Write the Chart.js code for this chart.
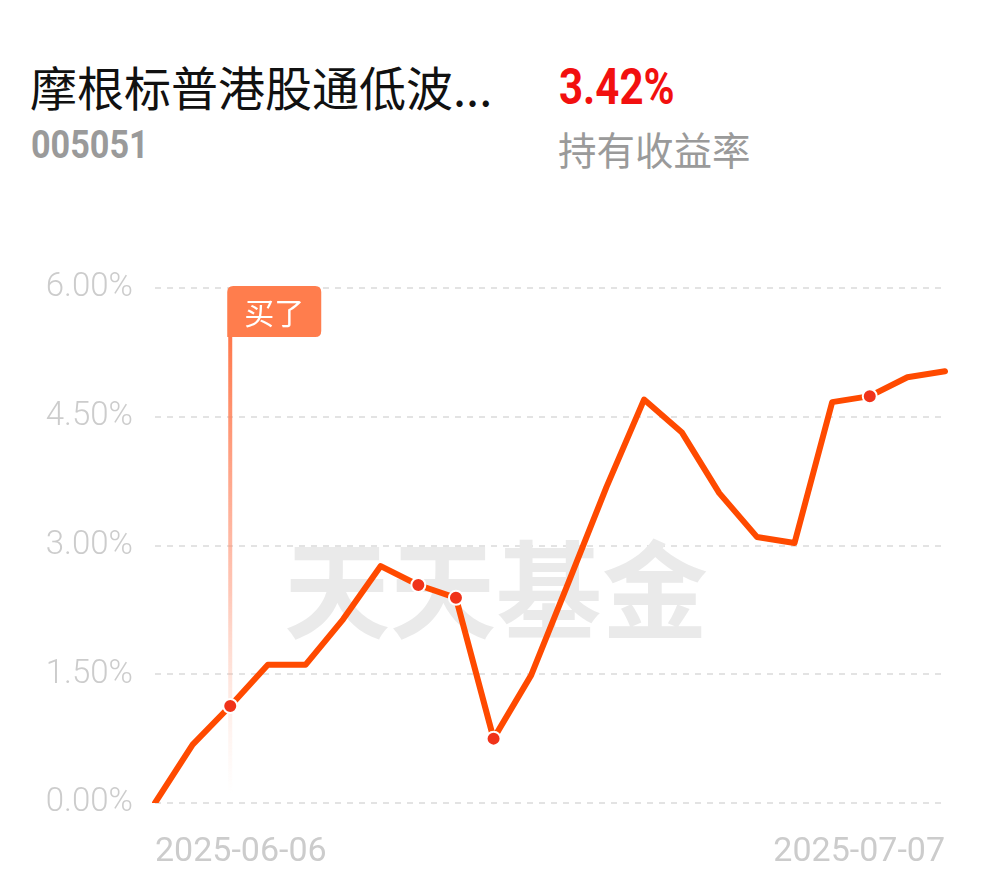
<!DOCTYPE html>
<html>
<head>
<meta charset="utf-8">
<script src="https://cdn.jsdelivr.net/npm/chart.js@4.4.1/dist/chart.umd.min.js"></script>
<style>
  body { margin: 0; background: #fff; width: 990px; height: 878px; overflow: hidden; position: relative; font-family: Roboto, "Noto Sans CJK SC", sans-serif; }
  .t { position: absolute; white-space: nowrap; transform-origin: left top; }
  #title { left: 30px; top: 51px; font: 47px "Noto Sans CJK SC", sans-serif; color: #111; }
  #rate { left: 559px; top: 58px; font: bold 50px Roboto, sans-serif; color: #f2100f; transform: scaleX(0.84); }
  #code { left: 31px; top: 123px; font: bold 38px Roboto, sans-serif; color: #9a9a9a; transform: scaleX(0.9); }
  #rateLabel { left: 558px; top: 120px; font: 38.5px "Noto Sans CJK SC", sans-serif; color: #9a9a9a; }
  #wrap { position: absolute; left: 0; top: 240px; width: 990px; height: 638px; }
</style>
</head>
<body>
<div class="t" id="title">摩根标普港股通低波...</div>
<div class="t" id="rate">3.42%</div>
<div class="t" id="code">005051</div>
<div class="t" id="rateLabel">持有收益率</div>
<div id="wrap"><canvas id="myChart"></canvas></div>
<script>
// trading days shown on the chart
dates = ['2025-06-06','2025-06-09','2025-06-10','2025-06-11','2025-06-12','2025-06-13',
         '2025-06-16','2025-06-17','2025-06-18','2025-06-19','2025-06-20',
         '2025-06-23','2025-06-24','2025-06-25','2025-06-26','2025-06-27',
         '2025-06-30','2025-07-01','2025-07-02','2025-07-03','2025-07-04','2025-07-07']
// holding return in %
returns = [0, 0.68, 1.13, 1.61, 1.61, 2.14, 2.76, 2.54, 2.39, 0.75, 1.49,
           2.58, 3.68, 4.70, 4.32, 3.61, 3.10, 3.03, 4.67, 4.74, 4.96, 5.03]
yTicks = [0, 1.5, 3, 4.5, 6]
// days with a trade dot, and the day the fund was bought
tradeDates = ['2025-06-10','2025-06-17','2025-06-18','2025-06-19','2025-07-03']
buyDate = '2025-06-10'
buyLabel = '买了'
watermark = '天天基金'

var watermarkPlugin = {
  id: 'watermark',
  beforeDatasetsDraw: function(chart) {
    var ctx = chart.ctx
    var a = chart.chartArea
    ctx.save()
    ctx.font = 'bold 106px "Noto Sans CJK SC"'
    ctx.fillStyle = '#eaeaea'
    ctx.textAlign = 'center'
    ctx.textBaseline = 'middle'
    ctx.fillText(watermark, a.left + 341, a.top + 302)
    ctx.restore()
  }
}

var buyFlagPlugin = {
  id: 'buyFlag',
  beforeDatasetsDraw: function(chart) {
    var ctx = chart.ctx
    var a = chart.chartArea
    var x = chart.scales.x.getPixelForValue(dates.indexOf(buyDate))
    var top = a.top + 49
    var bottom = a.bottom - 8
    ctx.save()
    var g = ctx.createLinearGradient(0, top, 0, bottom)
    g.addColorStop(0, 'rgba(255,120,75,1)')
    g.addColorStop(0.55, 'rgba(255,150,120,0.55)')
    g.addColorStop(1, 'rgba(255,200,180,0)')
    ctx.fillStyle = g
    ctx.fillRect(x - 2, top, 4, bottom - top)
    // flag box
    var bx = x - 3, by = a.top - 2, bw = 94, bh = 51, r = 6
    ctx.fillStyle = '#ff7d4d'
    ctx.beginPath()
    ctx.moveTo(bx + r, by)
    ctx.lineTo(bx + bw - r, by)
    ctx.quadraticCurveTo(bx + bw, by, bx + bw, by + r)
    ctx.lineTo(bx + bw, by + bh - r)
    ctx.quadraticCurveTo(bx + bw, by + bh, bx + bw - r, by + bh)
    ctx.lineTo(bx, by + bh)
    ctx.lineTo(bx, by + r)
    ctx.quadraticCurveTo(bx, by, bx + r, by)
    ctx.fill()
    ctx.fillStyle = '#fff'
    ctx.font = '30px "Noto Sans CJK SC"'
    ctx.textAlign = 'center'
    ctx.textBaseline = 'middle'
    ctx.fillText(buyLabel, bx + bw / 2, by + bh / 2 + 1)
    ctx.restore()
  }
}

var ctx = document.getElementById('myChart').getContext('2d')
var myChart = new Chart(ctx, {
  type: 'line',
  data: {
    labels: dates,
    datasets: [{
      data: returns,
      borderColor: '#ff4a00',
      borderWidth: 6,
      tension: 0,
      fill: false,
      borderJoinStyle: 'round',
      borderCapStyle: 'round',
      pointRadius: function(c) { return tradeDates.indexOf(dates[c.dataIndex]) >= 0 ? 7 : 0 },
      pointHoverRadius: 0,
      pointBackgroundColor: '#f0331a',
      pointBorderColor: '#ffffff',
      pointBorderWidth: 2
    }]
  },
  plugins: [watermarkPlugin, buyFlagPlugin],
  options: {
    responsive: true,
    maintainAspectRatio: false,
    animation: false,
    layout: { padding: { top: 48, right: 45, left: 0, bottom: 0 } },
    plugins: { legend: { display: false }, tooltip: { enabled: false } },
    scales: {
      x: {
        grid: { display: false },
        border: { display: false },
        afterFit: function(s) { s.height = 75 },
        ticks: {
          autoSkip: false,
          maxRotation: 0,
          align: 'inner',
          padding: 21,
          color: '#cccccc',
          font: { family: 'Roboto', size: 34 },
          callback: function(v, i) { return (i === 0 || i === dates.length - 1) ? dates[i] : '' }
        }
      },
      y: {
        min: yTicks[0],
        max: yTicks[yTicks.length - 1],
        afterFit: function(s) { s.width = 155 },
        afterBuildTicks: function(s) { s.ticks = yTicks.map(function(v) { return { value: v } }) },
        grid: { color: '#e3e3e3', lineWidth: 2, drawTicks: false },
        border: { display: false, dash: [6, 6] },
        ticks: {
          padding: 22,
          color: '#cccccc',
          font: { family: 'Roboto', size: 33, weight: '300' },
          callback: function(v) { return v.toFixed(2) + '%' }
        }
      }
    }
  }
})
</script>
</body>
</html>
